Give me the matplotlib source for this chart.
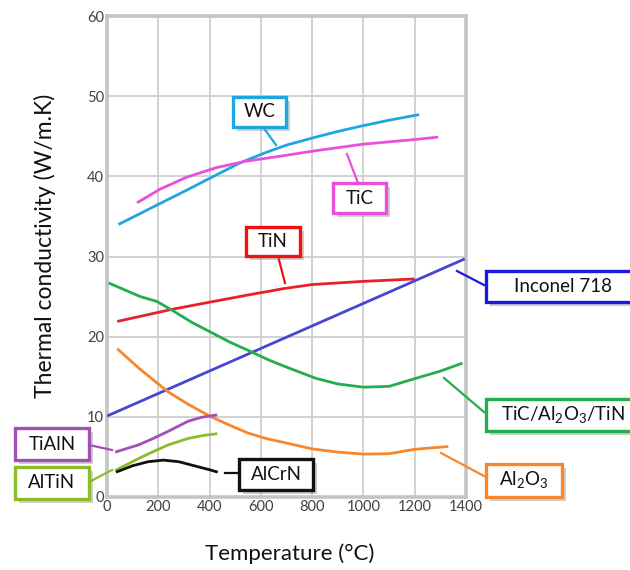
import matplotlib
matplotlib.use("Agg")
import matplotlib.pyplot as plt
from matplotlib.patches import Rectangle
from matplotlib.lines import Line2D
from matplotlib import transforms
import matplotlib.patheffects as pe

plt.rcParams['font.family'] = ['Lato', 'DejaVu Sans']
plt.rcParams['mathtext.fontset'] = 'custom'
plt.rcParams['mathtext.rm'] = 'Lato'

# ---- data (temperature in °C, thermal conductivity in W/m.K) ----
wc_t = [45, 200, 300, 428, 520, 622, 700, 815, 900, 996, 1100, 1217]
wc_k = [34.0, 36.5, 38.1, 40.2, 41.7, 43.0, 43.9, 44.9, 45.6, 46.3, 47.0, 47.7]

tic_t = [117, 207, 311, 428, 544, 673, 815, 996, 1204, 1292]
tic_k = [36.7, 38.4, 39.9, 41.1, 41.9, 42.5, 43.2, 44.0, 44.6, 44.9]

tin_t = [40, 252, 400, 550, 690, 800, 1000, 1200]
tin_k = [21.9, 23.4, 24.3, 25.2, 26.0, 26.5, 26.9, 27.2]

inc_t = [0, 1395]
inc_k = [10.1, 29.7]

ml_t = [6, 130, 194, 259, 330, 408, 480, 557, 630, 700, 815, 900, 1000, 1100, 1204, 1300, 1386]
ml_k = [26.7, 25.0, 24.4, 23.2, 21.8, 20.5, 19.3, 18.2, 17.1, 16.2, 14.8, 14.1, 13.7, 13.8, 14.8, 15.7, 16.7]

al_t = [40, 123, 239, 320, 400, 475, 548, 620, 690, 800, 900, 1000, 1100, 1200, 1331]
al_k = [18.5, 16.1, 13.1, 11.5, 10.1, 9.0, 8.0, 7.3, 6.8, 6.0, 5.6, 5.35, 5.4, 5.95, 6.3]

tialn_t = [32, 123, 180, 239, 316, 370, 430]
tialn_k = [5.6, 6.5, 7.3, 8.2, 9.45, 9.95, 10.25]

altin_t = [32, 123, 190, 239, 316, 380, 430]
altin_k = [3.3, 4.8, 5.8, 6.5, 7.3, 7.7, 7.9]

alcrn_t = [35, 100, 160, 220, 280, 340, 400, 432]
alcrn_k = [3.1, 3.9, 4.4, 4.6, 4.4, 3.9, 3.4, 3.1]

x_ticks = [0, 200, 400, 600, 800, 1000, 1200, 1400]
y_ticks = [0, 10, 20, 30, 40, 50, 60]

W, H = 630, 570
fig = plt.figure(figsize=(W / 100, H / 100), dpi=100)
ax = fig.add_axes([107 / W, 1 - 497 / H, (466 - 107) / W, (497 - 16) / H])

series = [
    (wc_t, wc_k, '#1ea6e0'),
    (tic_t, tic_k, '#ea4fdc'),
    (tin_t, tin_k, '#e8202a'),
    (inc_t, inc_k, '#4646d2'),
    (ml_t, ml_k, '#22ad4e'),
    (al_t, al_k, '#f7862c'),
    (tialn_t, tialn_k, '#a24fb6'),
    (altin_t, altin_k, '#8cbc28'),
    (alcrn_t, alcrn_k, '#111111'),
]
for t, k, c in series:
    ax.plot(t, k, color=c, lw=2.0, solid_capstyle='butt', solid_joinstyle='round', zorder=3)

ax.set_xlim(0, 1400)
ax.set_ylim(0, 60)
ax.set_xticks(x_ticks)
ax.set_yticks(y_ticks)
ax.grid(True, color='#d2d2d2', lw=1.4, zorder=0)
for s in ax.spines.values():
    s.set_color('#c4c4c4')
    s.set_linewidth(2.6)
ax.tick_params(length=0, labelsize=10.5, labelcolor='#404040', pad=2)
ax.set_xlabel('Temperature (°C)', fontsize=16, color='#111111', va='center')
ax.set_ylabel('Thermal conductivity (W/m.K)', fontsize=16.5, color='#111111', va='center')
ax.xaxis.set_label_coords((290 - 107) / 359, (497 - 554) / 481)
ax.yaxis.set_label_coords((45 - 107) / 359, (497 - 246) / 481)

# pixel-coordinate transform (origin top-left)
pix = transforms.Affine2D().scale(1 / W, -1 / H).translate(0, 1) + fig.transFigure


def label(x0, y0, x1, y1, text, color, leader):
    r = Rectangle((x0, y0), x1 - x0, y1 - y0, transform=pix, facecolor='white',
                  edgecolor=color, lw=2.4, zorder=10,
                  path_effects=[pe.SimplePatchShadow(offset=(3, -3), shadow_rgbFace='#888888', alpha=0.4),
                                pe.Normal()])
    fig.add_artist(r)
    fig.text((x0 + x1) / 2 / W, 1 - (y0 + y1) / 2 / H, text, ha='center', va='center',
             fontsize=13.5, color='#111111', zorder=11)
    (lx0, ly0), (lx1, ly1) = leader
    fig.add_artist(Line2D([lx0, lx1], [ly0, ly1], transform=pix, color=color, lw=1.6, zorder=9))


label(233, 97, 286, 127, 'WC', '#1ea6e0', ((263, 127), (276, 145)))
label(333, 183, 386, 213, 'TiC', '#ea4fdc', ((358, 183), (347, 154)))
label(246, 227, 300, 256, 'TiN', '#f01010', ((278, 256), (285, 283)))
label(486, 271, 640, 302, 'Inconel 718', '#1a1ae0', ((484, 285), (457, 271)))
label(486, 399, 640, 431, r'TiC/Al$_2$O$_3$/TiN', '#22ad4e', ((484, 412), (444, 378)))
label(486, 464, 562, 497, r'Al$_2$O$_3$', '#f7862c', ((484, 476), (441, 453)))
label(15, 428, 89, 460, 'TiAlN', '#a24fb6', ((89, 445), (112, 450)))
label(15, 467, 89, 499, 'AlTiN', '#8cbc28', ((89, 482), (112, 470)))
label(239, 459, 313, 490, 'AlCrN', '#111111', ((225, 473), (239, 473)))

fig.savefig('out.png', dpi=100)
